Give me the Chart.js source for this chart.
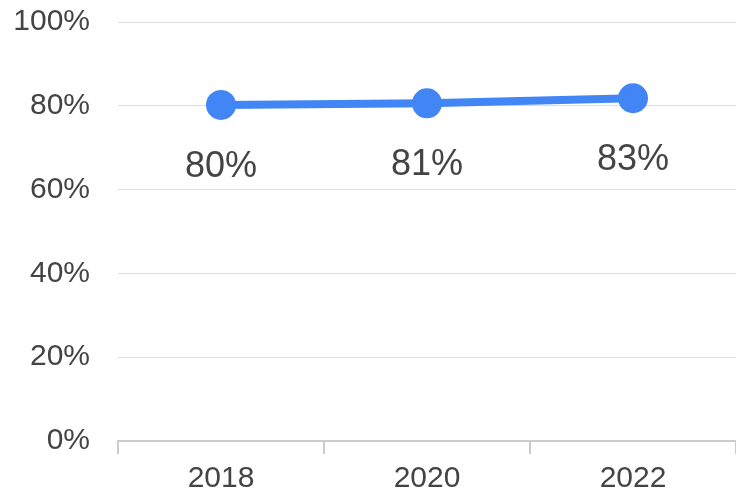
<!DOCTYPE html>
<html>
<head>
<meta charset="utf-8">
<script src="https://cdn.jsdelivr.net/npm/chart.js@4.4.1/dist/chart.umd.min.js"></script>
<style>
  html, body { margin: 0; padding: 0; background: #fff; overflow: hidden; }
  #wrap { width: 736px; height: 494px; position: relative; }
  canvas { display: block; }
</style>
</head>
<body>
<div id="wrap"><canvas id="chart"></canvas></div>
<script>
// chart data
const years = ['2018', '2020', '2022'];
const shares = [80.2, 80.6, 81.8];
const shareLabels = ['80%', '81%', '83%'];
const yTicks = [0, 20, 40, 60, 80, 100];

const lineBlue = '#4285F4';
const textGrey = '#444';

// draws the value text under each point
const pointLabels = {
    id: 'pointLabels',
    afterDatasetsDraw(chart) {
        const ctx = chart.ctx;
        const meta = chart.getDatasetMeta(0);
        ctx.save();
        ctx.font = '36px "Liberation Sans", Arial, sans-serif';
        ctx.fillStyle = textGrey;
        ctx.textAlign = 'center';
        ctx.textBaseline = 'middle';
        meta.data.forEach((pt, i) => {
            ctx.fillText(shareLabels[i], pt.x, pt.y + 62);
        });
        ctx.restore();
    }
};

const ctx = document.getElementById('chart').getContext('2d');
new Chart(ctx, {
    type: 'line',
    data: {
        labels: years,
        datasets: [{
            data: shares,
            borderColor: lineBlue,
            backgroundColor: lineBlue,
            borderWidth: 8,
            pointRadius: 15,
            pointHoverRadius: 15,
            pointBackgroundColor: lineBlue,
            pointBorderWidth: 0,
            fill: false,
            tension: 0,
            clip: false
        }]
    },
    options: {
        responsive: true,
        maintainAspectRatio: false,
        animation: false,
        layout: { autoPadding: false, padding: { top: 22, right: 0, bottom: 0, left: 0 } },
        plugins: {
            legend: { display: false },
            tooltip: { enabled: false }
        },
        scales: {
            x: {
                offset: true,
                grid: {
                    offset: true,
                    drawOnChartArea: false,
                    drawTicks: true,
                    tickLength: 13,
                    color: '#ccc',
                    lineWidth: 2
                },
                border: { display: true, color: '#ccc', width: 2 },
                ticks: {
                    color: textGrey,
                    padding: 7,
                    font: { family: '"Liberation Sans", Arial, sans-serif', size: 30 }
                },
                afterFit(scale) {
                    scale.height = 53;
                    scale.paddingLeft = 0;
                    scale.paddingRight = 0;
                }
            },
            y: {
                min: 0,
                max: 100,
                afterBuildTicks(scale) {
                    scale.ticks = yTicks.map(v => ({ value: v }));
                },
                grid: { color: '#ddd', lineWidth: 1, drawTicks: false },
                border: { display: false },
                ticks: {
                    color: textGrey,
                    padding: 28,
                    font: { family: '"Liberation Sans", Arial, sans-serif', size: 30 },
                    callback: v => v + '%'
                },
                afterFit(scale) {
                    scale.width = 118;
                    scale.paddingTop = 0;
                    scale.paddingBottom = 0;
                }
            }
        }
    },
    plugins: [pointLabels]
});
</script>
</body>
</html>
